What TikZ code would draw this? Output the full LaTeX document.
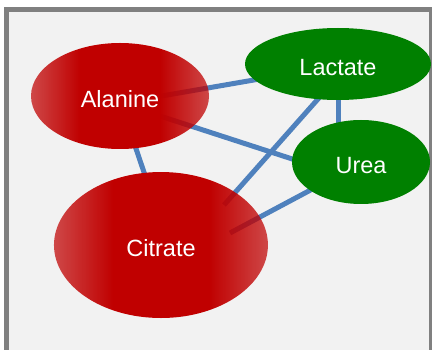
\documentclass[tikz,border=0pt]{standalone}
\usepackage{fontspec}
\setmainfont{Liberation Sans}
\usepackage{xcolor}
\usepackage{tikz}
\usetikzlibrary{calc,shapes.geometric,fadings}
\definecolor{molred}{RGB}{192,0,0}
\definecolor{molgreen}{RGB}{0,128,0}
\definecolor{linkblue}{RGB}{79,129,189}
\definecolor{panelgray}{RGB}{242,242,242}
\definecolor{framegray}{RGB}{128,128,128}
\pgfdeclarehorizontalshading{glassmask}{100bp}{color(0bp)=(black!30); color(25bp)=(black!30); color(39bp)=(white); color(61bp)=(white); color(75bp)=(black!30); color(100bp)=(black!30)}
\pgfdeclarefading{glass}{\pgfuseshading{glassmask}}
\pgfdeclarelayer{bg}
\pgfdeclarelayer{mid}
\pgfsetlayers{bg,mid,main}
\tikzset{mol/.style={ellipse,inner sep=0pt,text=white,text height=23pt,text depth=0pt,font=\fontsize{23.5}{26}\selectfont},red mol/.style={mol},green mol/.style={mol,fill=molgreen},link/.style={draw=linkblue,line width=5pt},glass fill/.style={fill=molred,path fading=glass}}

\begin{document}
\begin{tikzpicture}[x=1pt,y=-1pt]
			\useasboundingbox (0,0) rectangle (432,350);
			\clip (0,0) rectangle (432,350);
			\node[red mol,minimum width=178pt,minimum height=106pt] (ala) at (120,96) {Alanine};
			\node[green mol,minimum width=186pt,minimum height=72pt] (lac) at (338,64) {Lactate};
			\node[green mol,minimum width=138pt,minimum height=84pt] (urea) at (361,162) {Urea};
			\node[red mol,minimum width=214pt,minimum height=146pt] (cit) at (161,245) {Citrate};
			% panel and links
			\begin{pgfonlayer}{bg}
				\draw[framegray,line width=5pt,fill=panelgray] (6.5,9.5) rectangle (431.5,400);
				\draw[link] ($(ala)+(30,2)$) -- ($(lac)+(-38,8)$);
				\draw[link] ($(ala)+(40,20)$) -- ($(urea)+(-41,6)$);
				\draw[link] ($(ala)+(8,29)$) -- ($(cit)+(-11,-55)$);
				\draw[link] ($(lac)+(0,0)$) -- ($(urea)+(-23,0)$);
				\draw[link] ($(lac)+(-12,26)$) -- ($(cit)+(63,-40)$);
				\draw[link] ($(urea)+(-26,15)$) -- ($(cit)+(69,-12)$);
			\end{pgfonlayer}
			% red bodies
			\begin{pgfonlayer}{mid}
				\fill[glass fill] (ala) ellipse (89 and 53);
				\fill[glass fill] (cit) ellipse (107 and 73);
			\end{pgfonlayer}
		\end{tikzpicture}
\end{document}
